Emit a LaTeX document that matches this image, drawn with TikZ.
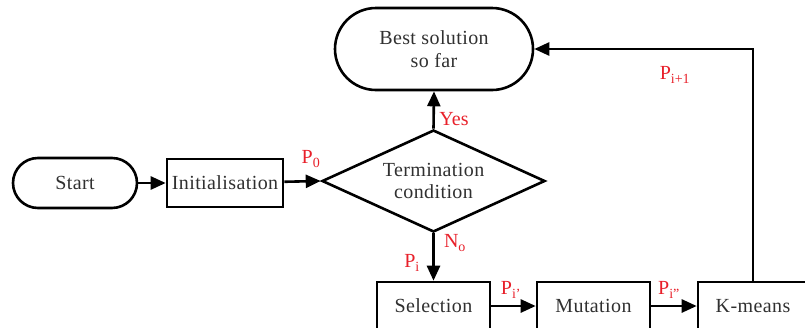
\documentclass[tikz,border=0pt]{standalone}
\usepackage{fontspec}
\setmainfont{Liberation Serif}
\newfontfamily\spaced[LetterSpace=2]{Liberation Serif}
\usetikzlibrary{shapes.geometric,arrows.meta}
\definecolor{txt}{HTML}{303030}
\definecolor{lab}{HTML}{E8202A}
\tikzset{
  base/.style={draw=black, line width=2.6pt, text=txt, font=\spaced\fontsize{20}{24}\selectfont, inner sep=0pt, align=center},
  term/.style={base, minimum width=124pt, minimum height=50pt, rounded corners=25pt},
  proc/.style={base, minimum height=48pt},
  cond/.style={base, diamond, aspect=2.19, minimum width=223pt, minimum height=102pt},
  conn/.style={line width=2.6pt, -{Triangle[length=15pt,width=13pt]}},
  lbl/.style={text=lab, font=\fontsize{20}{22}\selectfont, inner sep=0pt}
}
\begin{document}
\begin{tikzpicture}[x=1pt,y=-1pt]
\useasboundingbox (0,0) rectangle (805,327);
\node[term] (start) at (75,183) {Start};
\node[proc, minimum width=116pt] (init) at (225,183) {Initialisation};
\node[cond] (tc) at (433.5,181) {Termination\\[-2pt]condition};
\node[term, minimum width=198pt, minimum height=82pt, rounded corners=41pt] (best) at (434,49) {Best solution\\[-1pt]so far};
\node[proc, minimum width=113pt] (sel) at (433.5,306) {Selection};
\node[proc, minimum width=113pt] (mut) at (593.5,306) {Mutation};
\node[proc, minimum width=110pt] (km) at (753,306) {K-means};
\draw[conn] (start) -- (init);
\draw[conn] (init) -- (tc.west);
\draw[conn] (tc.north) -- (best.south);
\draw[conn] (tc.south) -- (sel.north);
\draw[conn] (sel) -- (mut);
\draw[conn] (mut) -- (km);
\draw[conn] (km.north) |- (best.east);
\node[lbl] (l0) at (311,159) {P\textsubscript{0}};
\node[lbl] (lyes) at (454,119) {Yes};
\node[lbl] (lno) at (455,243) {N\textsubscript{o}};
\node[lbl] (li) at (412,263) {P\textsubscript{i}};
\node[lbl] (li1) at (511,290) {P\textsubscript{i'}};
\node[lbl] (li2) at (669,290) {P\textsubscript{i"}};
\node[lbl] (lip) at (675,75) {P\textsubscript{i+1}};
\end{tikzpicture}
\end{document}
